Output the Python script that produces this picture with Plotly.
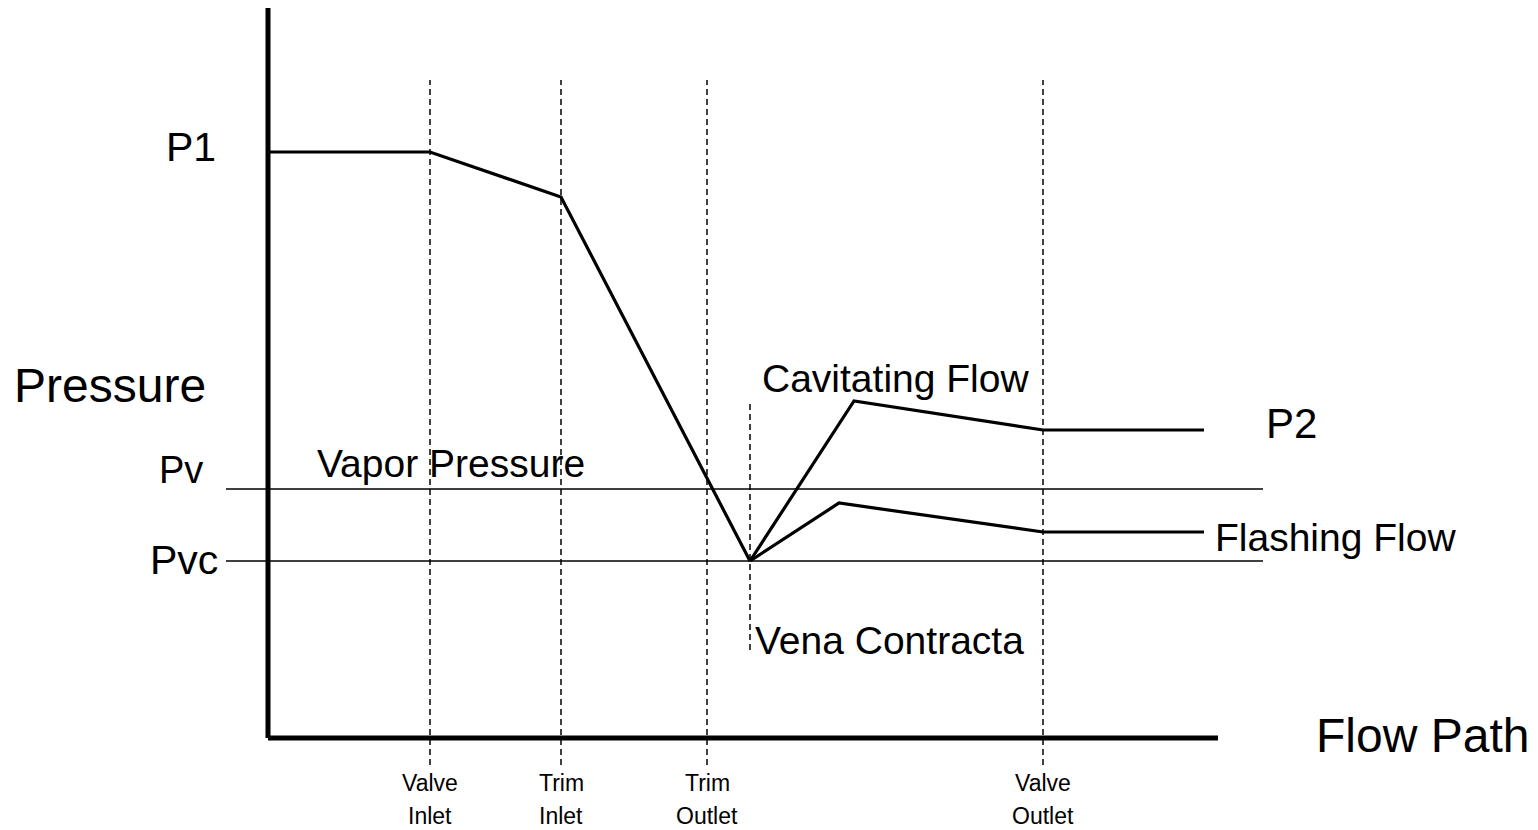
import plotly.graph_objects as go

# diagram units: x = distance along flow path, y = pressure (arbitrary units)
station_top = ["Valve", "Trim", "Trim", "Valve"]
station_bottom = ["Inlet", "Inlet", "Outlet", "Outlet"]
station_x = [162, 293, 439, 775]
vena_x = 482

p1 = 586
pv = 249
pvc = 177

drop_x = [0, 162, 293, 482]
drop_y = [586, 586, 541, 177]

cav_x = [482, 586, 775, 936]
cav_y = [177, 337, 308, 308]

flash_x = [482, 571, 775, 936]
flash_y = [177, 235, 206, 206]

FONT = "Liberation Sans, Arial, sans-serif"

fig = go.Figure()


def line(x, y, width, dash="solid"):
    fig.add_trace(go.Scatter(x=x, y=y, mode="lines", hoverinfo="skip",
                             line=dict(color="black", width=width, dash=dash)))


# station markers (dashed)
for sx in station_x:
    line([sx, sx], [-27, 658], 1.5, "6px,4px")
line([vena_x, vena_x], [88, 336], 1.5, "6px,4px")

# vapor pressure and vena contracta pressure levels
line([-42, 995], [pv, pv], 1.5)
line([-42, 995], [pvc, pvc], 1.5)

# pressure profiles
line(drop_x, drop_y, 3.2)
line(cav_x, cav_y, 3.2)
line(flash_x, flash_y, 3.2)

# axes
line([0, 0], [0, 732], 5)
line([0, 950], [0, 0], 5)

annos = [
    dict(text="Pressure", x=-256, y=353, xanchor="left", size=48),
    dict(text="P1", x=-50, y=591, xanchor="right", size=41),
    dict(text="Pv", x=-63, y=268, xanchor="right", size=38),
    dict(text="Pvc", x=-48, y=178, xanchor="right", size=41),
    dict(text="Vapor Pressure", x=47, y=275, xanchor="left", size=39),
    dict(text="Cavitating Flow", x=492, y=360, xanchor="left", size=39),
    dict(text="P2", x=996, y=315, xanchor="left", size=42),
    dict(text="Flashing Flow", x=945, y=201, xanchor="left", size=39),
    dict(text="Vena Contracta", x=485, y=98, xanchor="left", size=39),
    dict(text="Flow Path", x=1046, y=3, xanchor="left", size=48),
]
for a in annos:
    fig.add_annotation(x=a["x"], y=a["y"], text=a["text"], showarrow=False,
                       xanchor=a["xanchor"], yanchor="middle",
                       font=dict(family=FONT, size=a["size"], color="black"))

for top, bottom, sx in zip(station_top, station_bottom, station_x):
    fig.add_annotation(x=sx, y=-45, text=top, showarrow=False,
                       xanchor="center", yanchor="middle",
                       font=dict(family=FONT, size=23, color="black"))
    fig.add_annotation(x=sx, y=-78, text=bottom, showarrow=False,
                       xanchor="center", yanchor="middle",
                       font=dict(family=FONT, size=23, color="black"))

fig.update_layout(
    width=1538,
    height=830,
    showlegend=False,
    plot_bgcolor="white",
    paper_bgcolor="white",
    margin=dict(l=0, r=0, t=0, b=0),
    xaxis=dict(range=[-260, 1278], visible=False, fixedrange=True),
    yaxis=dict(range=[-100, 730], visible=False, fixedrange=True),
)

fig.write_html("out.html")
